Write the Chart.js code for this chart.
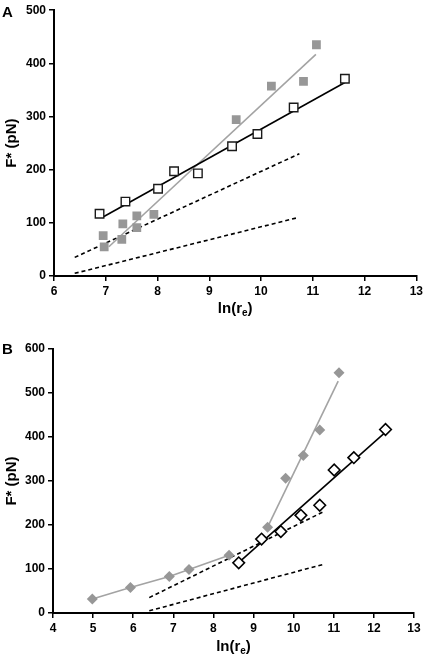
<!DOCTYPE html>
<html>
<head>
<meta charset="utf-8">
<script src="https://cdn.jsdelivr.net/npm/chart.js@4.4.0/dist/chart.umd.min.js"></script>
<style>
  html, body { margin: 0; padding: 0; background: #fff; }
  #wrap { position: relative; width: 426px; height: 658px; }
  .box { position: absolute; left: 0; width: 426px; }
</style>
</head>
<body>
<div id="wrap">
  <div class="box" style="top:0;height:330px;"><canvas id="cA" width="426" height="330"></canvas></div>
  <div class="box" style="top:330px;height:328px;"><canvas id="cB" width="426" height="328"></canvas></div>
</div>
<script>
// ---------- Panel A data ----------
const aTicksX = [6, 7, 8, 9, 10, 11, 12, 13];
const aTicksY = [0, 100, 200, 300, 400, 500];
const aOpenX = [6.88, 7.38, 8.01, 8.32, 8.78, 9.44, 9.93, 10.63, 11.62];
const aOpenY = [117, 140, 164, 197, 193, 244, 267, 317, 371];
const aGrayX = [6.95, 6.97, 7.33, 7.31, 7.60, 7.60, 7.93, 9.52, 10.20, 10.82, 11.07];
const aGrayY = [76, 55, 98, 69, 113, 91, 116, 294, 357, 366, 435];
const aBlackFitX = [6.93, 11.62];
const aBlackFitY = [110, 364];
const aGrayFitX = [7.06, 11.06];
const aGrayFitY = [55, 417];

// ---------- Panel B data ----------
const bTicksX = [4, 5, 6, 7, 8, 9, 10, 11, 12, 13];
const bTicksY = [0, 100, 200, 300, 400, 500, 600];
const bGrayLowX = [4.98, 5.93, 6.90, 7.39, 8.39];
const bGrayLowY = [32, 58, 83, 99, 131];
const bGrayHighX = [9.35, 9.80, 10.24, 10.65, 11.13];
const bGrayHighY = [195, 306, 358, 416, 546];
const bGrayFitX = [9.35, 11.11];
const bGrayFitY = [195, 527];
const bOpenX = [8.63, 9.20, 9.68, 10.18, 10.65, 11.01, 11.50, 12.29];
const bOpenY = [114, 168, 185, 222, 245, 325, 353, 417];
const bBlackFitX = [8.60, 12.29];
const bBlackFitY = [112, 411];

// ---------- Reference (dashed) lines, same in both panels ----------
const dashUpperX = [6.40, 10.74];
const dashUpperY = [35, 230];
const dashLowerX = [6.40, 10.72];
const dashLowerY = [5, 110];

const FONT = "'Liberation Sans', Arial, Helvetica, sans-serif";
const GRAY_PT = '#979797';
const GRAY_LN = '#a3a3a3';

function pts(xs, ys) { return xs.map((x, i) => ({ x: x, y: ys[i] })); }

function lineDs(xs, ys, color, dash, order) {
  return { data: pts(xs, ys), showLine: true, borderColor: color, borderWidth: 1.6,
           borderDash: dash || [], pointRadius: 0, fill: false, order: order };
}
function markDs(xs, ys, style, radius, fill, stroke, bw, order, showLine, lineColor) {
  return { data: pts(xs, ys), showLine: !!showLine, borderColor: lineColor || stroke,
           borderWidth: 1.6, pointStyle: style, pointRadius: radius,
           pointBackgroundColor: fill, pointBorderColor: stroke, pointBorderWidth: bw,
           fill: false, order: order };
}

function panelPlugin(letter, letterY, titleGap) {
  return {
    id: 'panel' + letter,
    afterDraw(chart) {
      const ctx = chart.ctx;
      const ca = chart.chartArea;
      ctx.save();
      ctx.fillStyle = '#000';
      ctx.textBaseline = 'top';
      ctx.textAlign = 'left';
      ctx.font = 'bold 15px ' + FONT;
      ctx.fillText(letter, 2, letterY);
      // x-axis title ln(r_e)
      const big = 'bold 15px ' + FONT, small = 'bold 10px ' + FONT;
      ctx.textBaseline = 'alphabetic';
      ctx.font = big; const w1 = ctx.measureText('ln(r').width; const w3 = ctx.measureText(')').width;
      ctx.font = small; const w2 = ctx.measureText('e').width;
      const total = w1 + w2 + w3;
      let x = (ca.left + ca.right) / 2 - total / 2;
      const y = ca.bottom + titleGap;
      ctx.font = big; ctx.fillText('ln(r', x, y); x += w1;
      ctx.font = small; ctx.fillText('e', x, y + 3); x += w2;
      ctx.font = big; ctx.fillText(')', x, y);
      ctx.restore();
    }
  };
}

function axisOpts(min, max, ticksArr, fitFn, pad, title) {
  const o = {
    type: 'linear', min: min, max: max,
    afterBuildTicks(scale) { scale.ticks = ticksArr.map(v => ({ value: v })); },
    ticks: { color: '#000', font: { family: FONT, size: 12, weight: 'bold' }, padding: pad },
    grid: { display: true, drawOnChartArea: false, drawTicks: true, tickLength: 5,
            color: '#000', lineWidth: 1.5 },
    border: { display: true, color: '#000', width: 2 },
    afterFit: fitFn
  };
  if (title) {
    o.title = { display: true, text: title, color: '#000',
                font: { family: FONT, size: 15, weight: 'bold' }, padding: { top: 3, bottom: 3 } };
  }
  return o;
}

const common = {
  responsive: false, animation: false, maintainAspectRatio: false,
  plugins: { legend: { display: false }, tooltip: { enabled: false } },
  events: []
};

// ---------- Chart A ----------
new Chart(document.getElementById('cA'), {
  type: 'scatter',
  data: { datasets: [
    markDs(aOpenX, aOpenY, 'rect', 6, '#fff', '#1a1a1a', 1.4, 0),
    markDs(aGrayX, aGrayY, 'rect', 6.2, GRAY_PT, GRAY_PT, 0, 1),
    lineDs(aBlackFitX, aBlackFitY, '#000', null, 2),
    lineDs(aGrayFitX, aGrayFitY, GRAY_LN, null, 3),
    lineDs(dashUpperX, dashUpperY, '#000', [4, 3], 4),
    lineDs(dashLowerX, dashLowerY, '#000', [4, 3], 4)
  ]},
  options: Object.assign({}, common, {
    layout: { padding: { top: 9, right: 8, left: 0, bottom: 0 } },
    scales: {
      x: axisOpts(6, 13, aTicksX, s => { s.height = 54; }, 3),
      y: axisOpts(0, 500, aTicksY, s => { s.width = 54; }, 3, 'F* (pN)')
    }
  }),
  plugins: [panelPlugin('A', 5, 37)]
});

// ---------- Chart B ----------
new Chart(document.getElementById('cB'), {
  type: 'scatter',
  data: { datasets: [
    markDs(bOpenX, bOpenY, 'rectRot', 5.8, '#fff', '#000', 1.6, 0),
    markDs(bGrayLowX, bGrayLowY, 'rectRot', 5.5, GRAY_PT, GRAY_PT, 0, 1, true, GRAY_LN),
    markDs(bGrayHighX, bGrayHighY, 'rectRot', 5.5, GRAY_PT, GRAY_PT, 0, 1),
    lineDs(bBlackFitX, bBlackFitY, '#000', null, 2),
    lineDs(bGrayFitX, bGrayFitY, GRAY_LN, null, 3),
    lineDs(dashUpperX, dashUpperY, '#000', [4, 3], 4),
    lineDs(dashLowerX, dashLowerY, '#000', [4, 3], 4)
  ]},
  options: Object.assign({}, common, {
    layout: { padding: { top: 19, right: 12, left: 0, bottom: 0 } },
    scales: {
      x: axisOpts(4, 13, bTicksX, s => { s.height = 45; }, 3),
      y: axisOpts(0, 600, bTicksY, s => { s.width = 53; }, 3, 'F* (pN)')
    }
  }),
  plugins: [panelPlugin('B', 12, 38)]
});
</script>
</body>
</html>
